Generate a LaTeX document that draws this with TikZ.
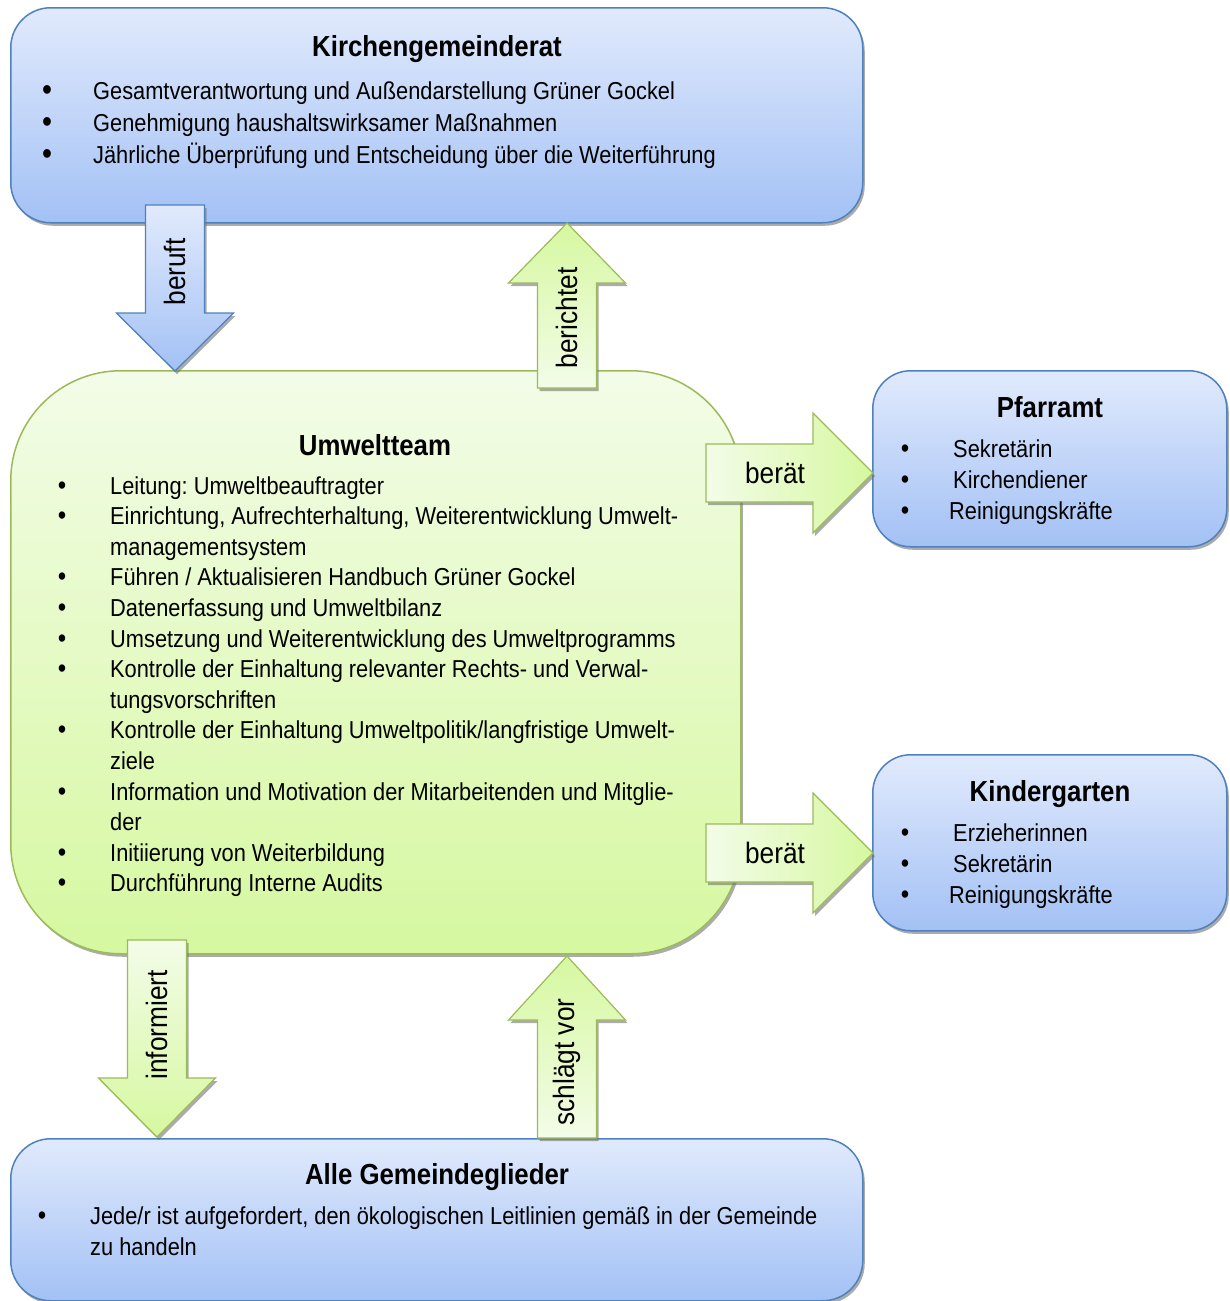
\documentclass[tikz,border=0pt]{standalone}
\usepackage{fontspec}
\setmainfont{Liberation Sans}[FakeStretch=0.89]
\usetikzlibrary{calc,shadows}

\definecolor{blueline}{RGB}{79,129,189}
\definecolor{bluetop}{RGB}{225,234,252}
\definecolor{bluebot}{RGB}{163,193,245}
\definecolor{greenline}{RGB}{155,187,89}
\definecolor{greentop}{RGB}{243,252,232}
\definecolor{greenbot}{RGB}{214,248,160}

% block arrows: x, y tail, y head base, y tip, style
\newcommand{\vblock}[5]{%
  \path[#5] (#1-29.5,#2) -- (#1+29.5,#2) -- (#1+29.5,#3) -- (#1+58.5,#3) -- (#1,#4)
    -- (#1-58.5,#3) -- (#1-29.5,#3) -- cycle;}
% y, x tail, x head base, x tip, style
\newcommand{\hblock}[5]{%
  \path[#5] (#2,#1-29) -- (#3,#1-29) -- (#3,#1-60) -- (#4,#1) -- (#3,#1+60)
    -- (#3,#1+29) -- (#2,#1+29) -- cycle;}

\frenchspacing

\begin{document}
\begin{tikzpicture}[x=1pt, y=-1pt,
  shadowed/.style={drop shadow={shadow xshift=2pt, shadow yshift=-3pt, fill=black!55, opacity=.6}},
  bluebox/.style={draw=blueline, line width=1.5pt, top color=bluetop, bottom color=bluebot,
    anchor=north west, inner sep=0pt, shadowed},
  greenbox/.style={draw=greenline, line width=1.5pt, top color=greentop, bottom color=greenbot,
    anchor=north west, inner sep=0pt, shadowed},
  bluearrow/.style={draw=blueline, line width=1.2pt, shadowed},
  greenarrow/.style={draw=greenline, line width=1.2pt, shadowed},
  title/.style={anchor=base, inner sep=0pt, font=\bfseries\fontsize{29}{32}\selectfont},
  txt/.style={anchor=base west, inner sep=0pt, font=\fontsize{24.5}{30}\selectfont},
  bul/.style={anchor=base, inner sep=0pt, font=\fontsize{27}{30}\selectfont},
  bigbul/.style={anchor=base, inner sep=0pt, font=\fontsize{32}{30}\selectfont},
  arrowlabel/.style={inner sep=0pt, font=\fontsize{29.5}{30}\selectfont}]

\useasboundingbox (0,0) rectangle (1229,1301);

% boxes
\node[bluebox, rounded corners=40pt, minimum width=852pt, minimum height=215pt] (kgr) at (10,7) {};
\node[greenbox, rounded corners=110pt, minimum width=730pt, minimum height=583pt] (team) at (10,370) {};
\node[bluebox, rounded corners=38pt, minimum width=354pt, minimum height=176pt] (pfarr) at (872,370) {};
\node[bluebox, rounded corners=38pt, minimum width=354pt, minimum height=176pt] (kiga) at (872,754) {};
\node[bluebox, rounded corners=40pt, minimum width=852pt, minimum height=162pt] (alle) at (10,1138) {};

% Kirchengemeinderat
\node[title] (kgrTitle) at (437,56) {Kirchengemeinderat};
\foreach \y/\t in {99/{Gesamtverantwortung und Außendarstellung Grüner Gockel},
    131/{Genehmigung haushaltswirksamer Maßnahmen},
    163/{Jährliche Überprüfung und Entscheidung über die Weiterführung}}{
  \node[bigbul] at (47,\y+1) {\textbullet};
  \node[txt] at (93,\y) {\t};
}

% Umweltteam
\node[title] (teamTitle) at (375,455) {Umweltteam};
\foreach \b/\t [count=\i from 0] in {1/{Leitung: Umweltbeauftragter},
    1/{Einrichtung, Aufrechterhaltung, Weiterentwicklung Umwelt-},
    0/{managementsystem},
    1/{Führen / Aktualisieren Handbuch Grüner Gockel},
    1/{Datenerfassung und Umweltbilanz},
    1/{Umsetzung und Weiterentwicklung des Umweltprogramms},
    1/{Kontrolle der Einhaltung relevanter Rechts- und Verwal-},
    0/{tungsvorschriften},
    1/{Kontrolle der Einhaltung Umweltpolitik/langfristige Umwelt-},
    0/{ziele},
    1/{Information und Motivation der Mitarbeitenden und Mitglie-},
    0/{der},
    1/{Initiierung von Weiterbildung},
    1/{Durchführung Interne Audits}}{
  \pgfmathsetmacro{\y}{494+30.6*\i}
  \ifnum\b=1 \node[bul] at (62,\y) {\textbullet}; \fi
  \node[txt] at (110,\y) {\t};
}

% Pfarramt
\node[title] (pfarrTitle) at (1050,417) {Pfarramt};
\foreach \x/\y/\t in {953/457/{Sekretärin}, 953/488/{Kirchendiener}, 949/519/{Reinigungskräfte}}{
  \node[bul] at (905,\y) {\textbullet};
  \node[txt] at (\x,\y) {\t};
}

% Kindergarten
\node[title] (kigaTitle) at (1050,801) {Kindergarten};
\foreach \x/\y/\t in {953/841/{Erzieherinnen}, 953/872/{Sekretärin}, 949/903/{Reinigungskräfte}}{
  \node[bul] at (905,\y) {\textbullet};
  \node[txt] at (\x,\y) {\t};
}

% Alle Gemeindeglieder
\node[title] (alleTitle) at (437,1184) {Alle Gemeindeglieder};
\node[bul] at (42,1224) {\textbullet};
\node[txt] at (90,1224) {Jede/r ist aufgefordert, den ökologischen Leitlinien gemäß in der Gemeinde};
\node[txt] at (90,1255) {zu handeln};

% arrows
\vblock{175}{205}{313}{371}{bluearrow, top color=bluetop, bottom color=bluebot}
\vblock{567}{388}{283}{223}{greenarrow, top color=greenbot, bottom color=greentop}
\hblock{473}{706}{813}{873}{greenarrow, left color=greentop, right color=greenbot}
\hblock{853}{706}{813}{873}{greenarrow, left color=greentop, right color=greenbot}
\vblock{157}{940}{1078}{1137}{greenarrow, top color=greentop, bottom color=greenbot}
\vblock{567}{1138}{1020}{956}{greenarrow, top color=greenbot, bottom color=greentop}

\node[arrowlabel, rotate=90] (beruft) at (175,272) {beruft};
\node[arrowlabel, rotate=90] (berichtet) at (567,318) {berichtet};
\node[arrowlabel] (berät1) at (775,473) {berät};
\node[arrowlabel] (berät2) at (775,853) {berät};
\node[arrowlabel, rotate=90] (informiert) at (157,1025) {informiert};
\node[arrowlabel, rotate=90] (schlägt) at (567,1062) {schlägt vor};
\end{tikzpicture}
\end{document}
